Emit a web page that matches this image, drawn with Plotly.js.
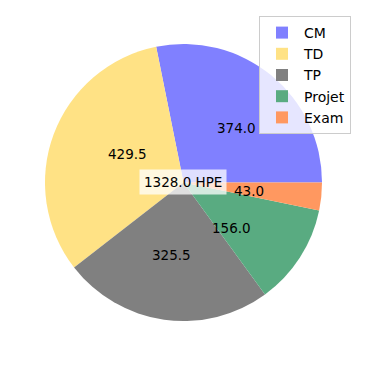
<!DOCTYPE html>
<html><head><meta charset="utf-8">
<script src="https://cdn.plot.ly/plotly-3.0.1.min.js"></script>
<style>html,body{margin:0;padding:0;background:#fff}#chart{width:366px;height:366px}</style>
</head><body><div id="chart"></div>
<script>
const categories = ["CM", "TD", "TP", "Projet", "Exam"];
const hours = [374.0, 429.5, 325.5, 156.0, 43.0];
const colors = ["#8080ff", "#ffe285", "#808080", "#59ab81", "#ff9860"];
const totalLabel = "HPE";

const W = 366, H = 366;
const cx = 183.5, cy = 182.5, R = 138.5;
const total = hours.reduce((a, b) => a + b, 0);

// value labels at 0.6 radius, matplotlib style (start angle 0, counterclockwise)
const annotations = [];
let acc = 0;
hours.forEach((v) => {
  const mid = (acc + v / 2) / total * 2 * Math.PI;
  acc += v;
  const px = cx + 0.6 * R * Math.cos(mid);
  const py = cy - 0.6 * R * Math.sin(mid);
  annotations.push({
    x: px / W, y: 1 - py / H, xref: "paper", yref: "paper",
    text: v.toFixed(1), showarrow: false,
    font: {family: "DejaVu Sans", size: 13.5, color: "#000"}
  });
});
annotations.push({
  x: cx / W, y: 1 - cy / H, xref: "paper", yref: "paper",
  text: total.toFixed(1) + " " + totalLabel, showarrow: false,
  font: {family: "DejaVu Sans", size: 13.5, color: "#000"},
  bgcolor: "rgba(255,255,255,0.75)", borderpad: 4
});

const trace = {
  type: "pie",
  labels: categories,
  values: hours,
  sort: false,
  direction: "counterclockwise",
  rotation: 90 - hours[0] / total * 360,
  textinfo: "none",
  hoverinfo: "label+value",
  marker: {colors: colors, line: {width: 0}},
  domain: {x: [(cx - R) / W, (cx + R) / W], y: [1 - (cy + R) / H, 1 - (cy - R) / H]}
};

const layout = {
  width: W, height: H,
  margin: {l: 0, r: 0, t: 0, b: 0},
  paper_bgcolor: "#fff",
  showlegend: true,
  legend: {
    x: 351 / W, xanchor: "right", y: 1 - 16 / H, yanchor: "top",
    bgcolor: "rgba(255,255,255,0.8)", bordercolor: "#cccccc", borderwidth: 1,
    itemwidth: 34,
    font: {family: "DejaVu Sans", size: 14, color: "#000"}
  },
  annotations: annotations
};

Plotly.newPlot("chart", [trace], layout, {displayModeBar: false, staticPlot: true});
</script>
</body></html>
